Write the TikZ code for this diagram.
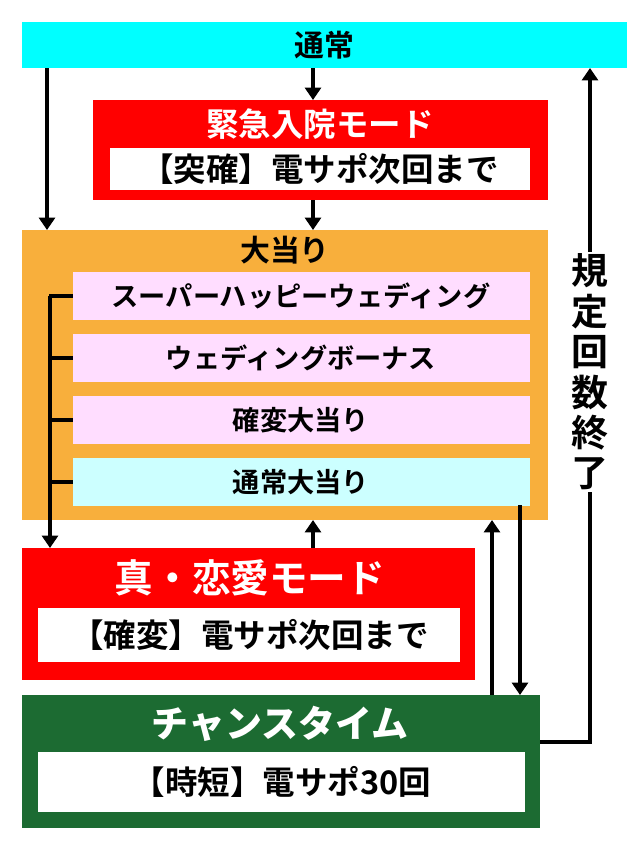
\documentclass[tikz,border=0pt]{standalone}
\usepackage{fontspec}
\setmainfont{Noto Sans CJK JP}[BoldFont={Noto Sans CJK JP Bold}]
\usetikzlibrary{arrows.meta}
\definecolor{topcyan}{HTML}{00FFFF}
\definecolor{modered}{HTML}{FF0000}
\definecolor{hitorange}{HTML}{F8AF3C}
\definecolor{subpink}{HTML}{FFDDFF}
\definecolor{subcyan}{HTML}{CCFFFF}
\definecolor{chancegreen}{HTML}{1C6B32}
\tikzset{
  flow/.style={line width=2.5pt, -{Triangle[length=7pt,width=9pt]}},
  plain/.style={line width=2.5pt},
  inner/.style={fill=white, font=\bfseries\fontsize{18.5}{18.5}\selectfont},
  sub/.style={font=\bfseries\fontsize{15.5}{16}\selectfont}
}
\begin{document}
\begin{tikzpicture}[x=0.02cm, y=-0.02cm]
  \useasboundingbox[fill=white] (0,0) rectangle (640,850);
  % Normal
  \fill[topcyan] (22,22) rectangle (627,68);
  \node[font=\bfseries\fontsize{17}{17}\selectfont] (normal) at (324,45) {通常};
  % Emergency mode
  \fill[modered] (93,100) rectangle (548,200);
  \node[font=\bfseries\fontsize{18.5}{18.5}\selectfont, text=white] (emg) at (320,124) {緊急入院モード};
  \fill[white] (110,148) rectangle (530,190);
  \node[inner] (emgsub) at (320,169) {【突確】電サポ次回まで};
  % Big hit
  \fill[hitorange] (22,230) rectangle (548,520);
  \node[font=\bfseries\fontsize{17}{17}\selectfont] (hit) at (285,250) {大当り};
  \fill[subpink] (73,272) rectangle (530,320);
  \node[sub] (h1) at (301,296) {スーパーハッピーウェディング};
  \fill[subpink] (73,334) rectangle (530,382);
  \node[sub] (h2) at (301,358) {ウェディングボーナス};
  \fill[subpink] (73,396) rectangle (530,444);
  \node[sub] (h3) at (301,420) {確変大当り};
  \fill[subcyan] (73,458) rectangle (530,506);
  \node[sub] (h4) at (301,482) {通常大当り};
  % Love mode
  \fill[modered] (22,548) rectangle (475,680);
  \node[font=\bfseries\fontsize{22}{22}\selectfont, text=white] (love) at (250,578) {真・恋愛モード};
  \fill[white] (38,608) rectangle (460,662);
  \node[inner] (lovesub) at (250,635) {【確変】電サポ次回まで};
  % Chance time
  \fill[chancegreen] (22,695) rectangle (540,828);
  \node[font=\bfseries\itshape\fontsize{21}{21}\selectfont, text=white] (chance) at (280,724) {チャンスタイム};
  \fill[white] (38,752) rectangle (525,812);
  \node[inner] (chancesub) at (282,782) {【時短】電サポ30回};
  % Connectors
  \coordinate (a1) at (313,68);  \coordinate (a2) at (313,100);
  \coordinate (b1) at (313,200); \coordinate (b2) at (313,230);
  \coordinate (c1) at (47,68);   \coordinate (c2) at (47,230);
  \coordinate (d1) at (313,548); \coordinate (d2) at (313,520);
  \coordinate (e1) at (492,695); \coordinate (e2) at (492,520);
  \coordinate (f1) at (520,505); \coordinate (f2) at (520,695);
  \coordinate (g1) at (540,742); \coordinate (g2) at (590,68);
  \coordinate (k1) at (50,296);  \coordinate (k2) at (50,548);
  \draw[flow] (a1) -- (a2);
  \draw[flow] (b1) -- (b2);
  \draw[flow] (c1) -- (c2);
  \draw[flow] (d1) -- (d2);
  \draw[flow] (e1) -- (e2);
  \draw[flow] (f1) -- (f2);
  \draw[flow] (g1) -| (g2);
  \draw[flow] (k1) -- (k2);
  \foreach \yy in {296,358,420,482}
    \draw[plain] (49,\yy) -- (73,\yy);
  \node[fill=white, inner sep=1pt, align=center, font=\bfseries\fontsize{21}{23}\selectfont] (count) at (590,372)
    {規\\定\\回\\数\\終\\了};
\end{tikzpicture}
\end{document}
